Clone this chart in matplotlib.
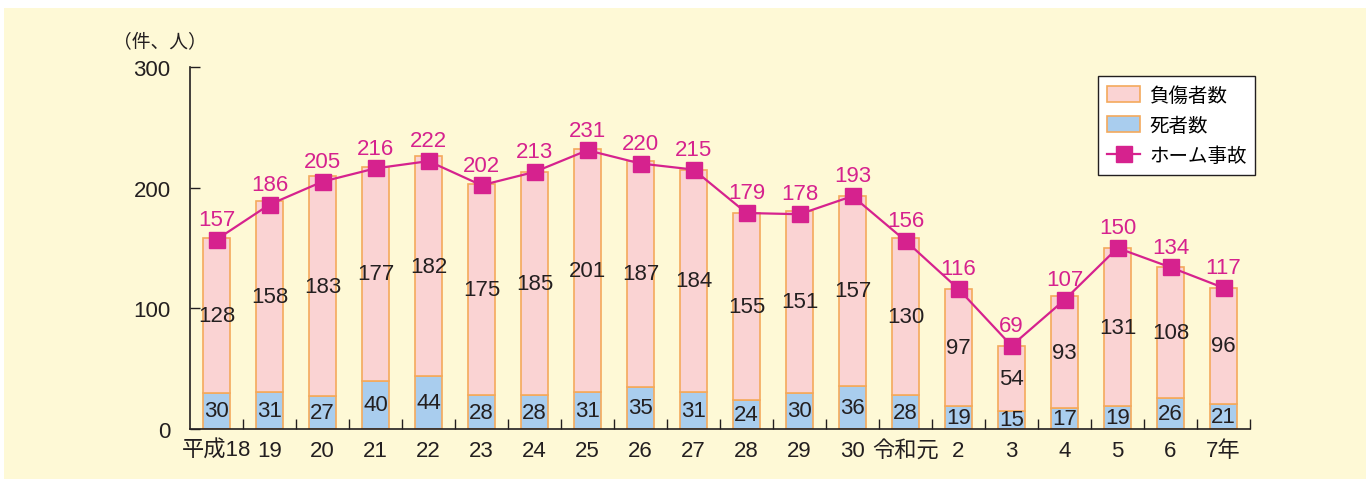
import matplotlib
matplotlib.use("Agg")
import matplotlib.pyplot as plt
from matplotlib.patches import Rectangle, Patch
from matplotlib.lines import Line2D

plt.rcParams['font.family'] = ['Liberation Sans', 'Noto Sans CJK JP', 'DejaVu Sans']

categories = ["平成18", "19", "20", "21", "22", "23", "24", "25", "26", "27",
              "28", "29", "30", "令和元", "2", "3", "4", "5", "6", "7年"]
deaths = [30, 31, 27, 40, 44, 28, 28, 31, 35, 31, 24, 30, 36, 28, 19, 15, 17, 19, 26, 21]
injuries = [128, 158, 183, 177, 182, 175, 185, 201, 187, 184, 155, 151, 157, 130, 97, 54, 93, 131, 108, 96]
accidents = [157, 186, 205, 216, 222, 202, 213, 231, 220, 215, 179, 178, 193, 156, 116, 69, 107, 150, 134, 117]

cream = "#FEF9D6"
pink = "#FAD3D3"
blue = "#A9CDEE"
edge = "#F4A95C"
magenta = "#D6228E"
txt = "#231F20"

W, H = 1367, 481
fig = plt.figure(figsize=(W / 100, H / 100), dpi=100)
fig.patch.set_facecolor("white")
fig.patches.append(Rectangle((4 / W, 1 / H), (1366 - 4) / W, (480 - 9) / H,
                             transform=fig.transFigure, facecolor=cream,
                             edgecolor="none", zorder=-10))

ax = fig.add_axes([190 / W, (H - 430) / H, (1250 - 190) / W, (430 - 68) / H])
ax.set_zorder(5)
ax.set_facecolor("none")

x = list(range(len(categories)))
bw = 0.5
ax.bar(x, deaths, width=bw, color=blue, edgecolor=edge, linewidth=1.2, zorder=2)
ax.bar(x, injuries, width=bw, bottom=deaths, color=pink, edgecolor=edge, linewidth=1.2, zorder=2)
ax.plot(x, accidents, color=magenta, linewidth=1.6, marker="s", markersize=11,
        markerfacecolor=magenta, markeredgecolor=magenta, zorder=4)

fs = 16
for i in x:
    ax.text(i, deaths[i] / 2, str(deaths[i]), ha="center", va="center",
            fontsize=fs, color=txt, zorder=5)
    ax.text(i, deaths[i] + injuries[i] / 2, str(injuries[i]), ha="center", va="center",
            fontsize=fs, color=txt, zorder=5)
    ax.annotate(str(accidents[i]), (i, accidents[i]), xytext=(0, 7),
                textcoords="offset points", ha="center", va="bottom",
                fontsize=fs, color=magenta, zorder=5)

ax.set_xlim(-0.5, len(categories) - 0.5)
ax.set_ylim(0, 300)
ax.spines["top"].set_visible(False)
ax.spines["right"].set_visible(False)
for s in ("left", "bottom"):
    ax.spines[s].set_color(txt)
    ax.spines[s].set_linewidth(1.2)

ax.set_yticks([0, 100, 200, 300])
ax.set_yticklabels(["0", "100", "200", "300"], fontsize=fs, color=txt)
ax.tick_params(axis="y", direction="in", length=7, width=1.0, color=txt, pad=14)

ax.set_xticks(x)
ax.set_xticklabels(categories, fontsize=fs, color=txt)
ax.tick_params(axis="x", which="major", length=0, pad=8)
ax.set_xticks([i + 0.5 for i in x], minor=True)
ax.tick_params(axis="x", which="minor", direction="in", length=7, width=1.0, color=txt)

fig.text(113 / W, (H - 42) / H, "（件、人）", fontsize=13.5, color=txt,
         ha="left", va="center", family=['Noto Sans CJK JP'])

handles = [Patch(facecolor=pink, edgecolor=edge, linewidth=1.2, label="負傷者数"),
           Patch(facecolor=blue, edgecolor=edge, linewidth=1.2, label="死者数"),
           Line2D([0], [0], color=magenta, linewidth=1.6, marker="s", markersize=11,
                  label="ホーム事故")]
leg = ax.legend(handles=handles, loc="upper right", bbox_to_anchor=(1.005, 0.975),
                borderaxespad=0, prop={'family': ['Noto Sans CJK JP'], 'size': 14},
                frameon=True, fancybox=False, edgecolor=txt,
                facecolor="white", framealpha=1, handlelength=1.7, handleheight=0.85,
                labelspacing=0.47, borderpad=0.45, handletextpad=0.45)
leg.get_frame().set_linewidth(1.0)

fig.savefig("out.png", dpi=100, facecolor=fig.get_facecolor())
